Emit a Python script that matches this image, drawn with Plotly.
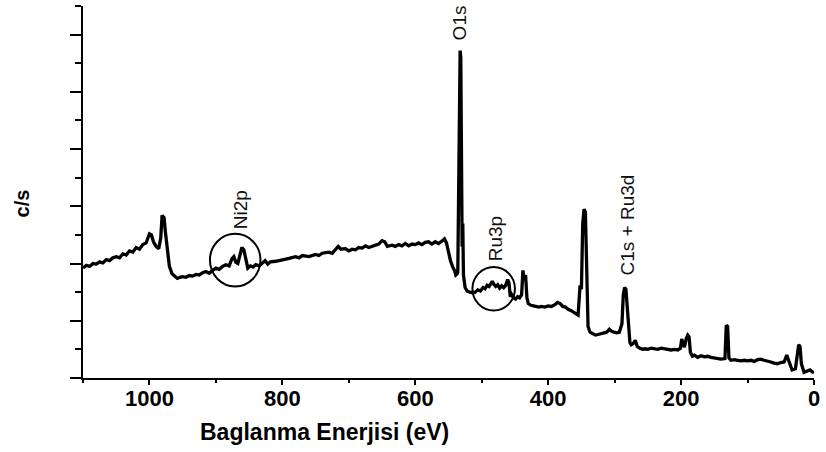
import plotly.graph_objects as go

# XPS survey spectrum: binding energy (eV) and intensity (c/s, arbitrary units)
binding_energy = [
    1100, 1095, 1090, 1085, 1080, 1075, 1070, 1065, 1060, 1055, 1050, 1045, 1040, 1035,
    1030, 1025, 1020, 1015, 1010, 1005, 1000, 997, 994, 990, 986, 983, 981, 978, 976,
    973, 970, 966, 962, 958, 954, 950, 945, 940, 935, 930, 925, 920, 915, 910, 905, 900,
    895, 890, 885, 880, 876, 873, 870, 867, 864, 861, 858, 855, 852, 848, 844, 840, 835,
    830, 826, 822, 818, 810, 800, 790, 780, 775, 770, 760, 750, 745, 740, 730, 725, 720,
    716, 712, 705, 700, 695, 690, 685, 680, 675, 670, 665, 660, 655, 650, 646, 642, 635,
    630, 625, 620, 615, 610, 605, 600, 595, 590, 585, 580, 575, 570, 565, 560, 556, 553,
    550, 547, 544, 541, 539, 537, 536, 535, 534.5, 533.5, 532.5, 531.5, 530.5, 529.5,
    528.5, 527.5, 525, 522, 518, 514, 510, 506, 502, 498, 495, 492, 489, 486, 484, 482,
    479, 476, 473, 470, 467, 464, 461, 459, 457, 455, 452, 449, 446, 443, 440, 438, 436,
    434, 432, 430, 426, 422, 418, 414, 410, 405, 400, 395, 390, 386, 382, 378, 374, 370,
    366, 362, 358, 355, 352, 350, 348, 346, 344, 342, 340, 337, 333, 329, 325, 320, 316,
    312, 308, 305, 301, 297, 293, 289, 287, 285, 283, 281, 279, 277, 275, 272, 269, 266,
    262, 258, 254, 250, 245, 240, 235, 230, 225, 220, 215, 210, 205, 201, 199, 197, 195,
    192, 190, 188, 186, 183, 180, 175, 170, 165, 160, 155, 150, 145, 140, 134, 132, 130,
    128, 125, 120, 115, 110, 105, 100, 95, 90, 85, 80, 75, 70, 65, 60, 55, 50, 45, 41,
    38, 33, 28, 25, 23, 21, 19, 15, 10, 6, 3, 0,
]
intensity = [
    1.92, 1.97, 1.95, 2.00, 1.99, 2.03, 2.01, 2.07, 2.05, 2.10, 2.12, 2.10, 2.17, 2.15,
    2.22, 2.20, 2.28, 2.25, 2.33, 2.36, 2.52, 2.50, 2.38, 2.30, 2.26, 2.45, 2.84, 2.80, 2.55,
    2.20, 1.95, 1.82, 1.78, 1.74, 1.76, 1.77, 1.76, 1.79, 1.78, 1.81, 1.80, 1.84, 1.86, 1.83, 1.88, 1.92,
    1.90, 1.95, 1.98, 1.96, 2.08, 2.12, 2.02, 2.00, 2.14, 2.28, 2.24, 2.05, 1.92, 1.96, 1.94, 1.98, 1.96,
    2.01, 2.05, 1.99, 2.03, 2.04, 2.06, 2.09, 2.12, 2.10, 2.14, 2.12, 2.16, 2.14, 2.18, 2.20, 2.18, 2.24,
    2.30, 2.25, 2.26, 2.22, 2.25, 2.24, 2.28, 2.27, 2.31, 2.28, 2.30, 2.31, 2.34, 2.40, 2.38, 2.30, 2.32,
    2.30, 2.33, 2.31, 2.35, 2.31, 2.34, 2.33, 2.36, 2.33, 2.37, 2.38, 2.34, 2.38, 2.35, 2.39, 2.43, 2.36,
    2.20, 2.05, 1.95, 1.88, 1.80, 1.82, 1.85, 3.28, 2.60, 5.70, 5.72, 5.60, 4.00, 2.30,
    2.70, 1.80, 1.58, 1.52, 1.50, 1.49, 1.50, 1.54, 1.52, 1.58, 1.56, 1.62, 1.60, 1.66, 1.69, 1.64,
    1.60, 1.63, 1.57, 1.61, 1.58, 1.62, 1.72, 1.66, 1.42, 1.46, 1.40, 1.38, 1.42, 1.40, 1.45, 1.88, 1.70,
    1.80, 1.40, 1.30, 1.27, 1.26, 1.25, 1.24, 1.25, 1.24, 1.26, 1.25, 1.28, 1.32, 1.30, 1.25, 1.24, 1.20,
    1.18, 1.15, 1.13, 1.10, 1.62, 1.55, 2.70, 2.95, 2.90, 1.60, 0.90, 0.80, 0.77, 0.75, 0.76, 0.78, 0.79,
    0.80, 0.85, 0.82, 0.80, 0.79, 0.80, 0.95, 1.45, 1.58, 1.55, 1.25, 1.10, 0.62, 0.58, 0.60, 0.66, 0.55,
    0.52, 0.50, 0.51, 0.50, 0.52, 0.51, 0.50, 0.52, 0.51, 0.50, 0.49, 0.50, 0.49, 0.52, 0.68, 0.60, 0.54,
    0.70, 0.75, 0.72, 0.45, 0.38, 0.40, 0.36, 0.39, 0.37, 0.38, 0.36, 0.35, 0.34, 0.33, 0.34, 0.92, 0.90,
    0.35, 0.31, 0.32, 0.31, 0.30, 0.31, 0.30, 0.31, 0.29, 0.32, 0.33, 0.31, 0.30, 0.28, 0.26, 0.25, 0.27, 0.28, 0.40,
    0.30, 0.14, 0.16, 0.45, 0.58, 0.55, 0.25, 0.10, 0.12, 0.14, 0.11, 0.09,
]

# Peak assignments: label, energy position, label height
peak_labels = ["O1s", "Ni2p", "Ru3p", "C1s + Ru3d"]
peak_label_x = [533, 863, 478, 281]
peak_label_y = [6.21, 2.94, 2.43, 2.67]

# Highlighted regions (centre energy, centre intensity, radius eV, radius intensity)
circle_cx = [871, 482]
circle_cy = [2.06, 1.56]
circle_rx = [38, 32]
circle_ry = [0.46, 0.38]

x_ticks = [0, 200, 400, 600, 800, 1000]

fig = go.Figure()
fig.add_trace(go.Scatter(
    x=binding_energy, y=intensity, mode="lines",
    line=dict(color="black", width=3.3), showlegend=False,
))

label_font = dict(family="Liberation Sans, Arial", size=19, color="#111111")
for txt, lx, ly in zip(peak_labels, peak_label_x, peak_label_y):
    fig.add_annotation(x=lx, y=ly, xref="x", yref="y", text=txt, textangle=-90,
                       showarrow=False, xanchor="center", yanchor="middle", font=label_font)

for cx, cy, rx, ry in zip(circle_cx, circle_cy, circle_rx, circle_ry):
    fig.add_shape(type="circle", xref="x", yref="y",
                  x0=cx - rx, x1=cx + rx, y0=cy - ry, y1=cy + ry,
                  line=dict(color="black", width=2))

bold = dict(family="Liberation Sans, Arial", size=22, color="black", weight="bold")
fig.add_annotation(text="Baglanma Enerjisi (eV)", xref="paper", yref="paper", x=0.33, y=-0.145,
                   showarrow=False, xanchor="center", yanchor="middle",
                   font=dict(family="Liberation Sans, Arial", size=23, color="black", weight="bold"))
fig.add_annotation(text="c/s", xref="paper", yref="paper", x=-0.083, y=0.47, textangle=-90,
                   showarrow=False, xanchor="center", yanchor="middle",
                   font=dict(family="Liberation Sans, Arial", size=20, color="black", weight="bold"))

fig.update_xaxes(
    range=[1100, 0], tickvals=x_ticks, ticktext=[str(v) for v in x_ticks],
    ticks="outside", ticklen=5, tickwidth=2, tickcolor="black", ticklabelstandoff=-5,
    showline=True, linewidth=2, linecolor="black", showgrid=False, zeroline=False,
    tickfont=bold,
    minor=dict(tickvals=[100, 300, 500, 700, 900, 1100], ticks="outside", ticklen=3,
               tickwidth=2, tickcolor="black", showgrid=False),
)
fig.update_yaxes(
    range=[0, 6.5], dtick=1, tick0=0, showticklabels=False,
    ticks="outside", ticklen=11, tickwidth=2, tickcolor="black",
    showline=True, linewidth=2, linecolor="black", showgrid=False, zeroline=False,
    minor=dict(dtick=0.5, ticks="outside", ticklen=6, tickwidth=2, tickcolor="black", showgrid=False),
)
fig.update_layout(
    width=826, height=452,
    margin=dict(l=83, r=8, t=6, b=74),
    plot_bgcolor="white", paper_bgcolor="white",
)
fig.write_html("out.html")
